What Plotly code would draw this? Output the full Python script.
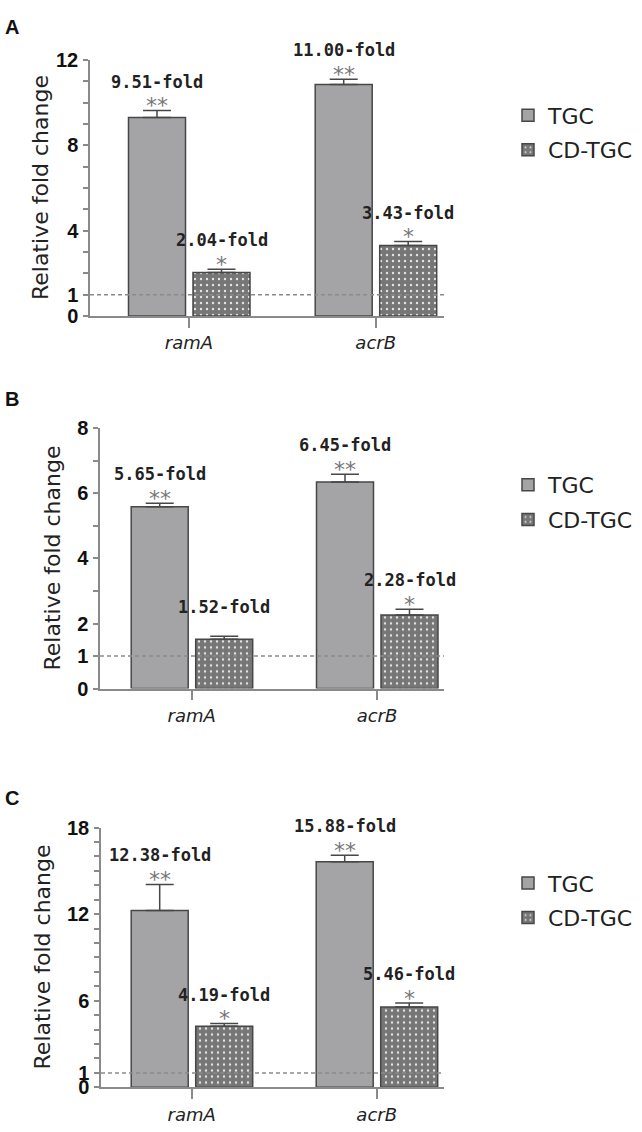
import plotly.graph_objects as go

W, H = 642, 1132

# ---------------- data ----------------
genes = ["ramA", "acrB"]
series_names = ["TGC", "CD-TGC"]

# Panel A
a_tgc = [9.30, 10.85]
a_tgc_err = [0.33, 0.25]
a_cd = [2.04, 3.30]
a_cd_err = [0.15, 0.19]
a_tgc_lbl = ["9.51-fold", "11.00-fold"]
a_cd_lbl = ["2.04-fold", "3.43-fold"]
a_tgc_sig = ["**", "**"]
a_cd_sig = ["*", "*"]
a_ticklabels = [0, 1, 4, 8, 12]
a_ymax = 12

# Panel B
b_tgc = [5.59, 6.35]
b_tgc_err = [0.11, 0.24]
b_cd = [1.52, 2.26]
b_cd_err = [0.09, 0.18]
b_tgc_lbl = ["5.65-fold", "6.45-fold"]
b_cd_lbl = ["1.52-fold", "2.28-fold"]
b_tgc_sig = ["**", "**"]
b_cd_sig = ["", "*"]
b_ticklabels = [0, 1, 2, 4, 6, 8]
b_ymax = 8

# Panel C
c_tgc = [12.25, 15.63]
c_tgc_err = [1.81, 0.45]
c_cd = [4.24, 5.57]
c_cd_err = [0.18, 0.27]
c_tgc_lbl = ["12.38-fold", "15.88-fold"]
c_cd_lbl = ["4.19-fold", "5.46-fold"]
c_tgc_sig = ["**", "**"]
c_cd_sig = ["*", "*"]
c_ticklabels = [0, 1, 6, 12, 18]
c_ymax = 18

panels = [
    dict(letter="A", tgc=a_tgc, tgc_err=a_tgc_err, cd=a_cd, cd_err=a_cd_err,
         tgc_lbl=a_tgc_lbl, cd_lbl=a_cd_lbl, tgc_sig=a_tgc_sig, cd_sig=a_cd_sig,
         ticklabels=a_ticklabels, ymax=a_ymax),
    dict(letter="B", tgc=b_tgc, tgc_err=b_tgc_err, cd=b_cd, cd_err=b_cd_err,
         tgc_lbl=b_tgc_lbl, cd_lbl=b_cd_lbl, tgc_sig=b_tgc_sig, cd_sig=b_cd_sig,
         ticklabels=b_ticklabels, ymax=b_ymax),
    dict(letter="C", tgc=c_tgc, tgc_err=c_tgc_err, cd=c_cd, cd_err=c_cd_err,
         tgc_lbl=c_tgc_lbl, cd_lbl=c_cd_lbl, tgc_sig=c_tgc_sig, cd_sig=c_cd_sig,
         ticklabels=c_ticklabels, ymax=c_ymax),
]

# ---------------- layout geometry (pixels) ----------------
geom = [
    dict(left=90, right=444, top=50, bottom=311, c0=189, c1=375.7, title_x=41, letter_y=16, leg_y=104),
    dict(left=100, right=444, top=425.7, bottom=691, c0=191.7, c1=377, title_x=52, letter_y=396, leg_y=481),
    dict(left=101, right=444, top=832.7, bottom=1097.7, c0=191.7, c1=376.7, title_x=42, letter_y=803, leg_y=887),
]

def px(x):
    return x / W

def py(y):
    return 1 - y / H

TGC_FILL = "#a4a4a7"
CD_FILL = "#767676"
EDGE = "#474747"
AXIS = "#8a8a8a"

fig = go.Figure()
annotations = []
shapes = []
layout_extra = {}

for i, (p, g) in enumerate(zip(panels, geom)):
    n = i + 1
    sfx = "" if n == 1 else str(n)
    xa, ya = "x" + sfx, "y" + sfx
    leg = "legend" + sfx
    s = g["c1"] - g["c0"]
    bw = 57.0 / s
    off_tgc = -60.5 / s
    off_cd = 4.0 / s
    xr = [-(g["c0"] - g["left"]) / s, 1 + (g["right"] - g["c1"]) / s]

    fig.add_trace(go.Bar(
        x=[0, 1], y=p["tgc"], name=series_names[0], xaxis=xa, yaxis=ya,
        width=bw, offset=off_tgc, legend=leg, legendgroup="g1_" + sfx,
        marker=dict(color=TGC_FILL, line=dict(color=EDGE, width=1.5)),
        error_y=dict(type="data", symmetric=False, array=p["tgc_err"], arrayminus=[0, 0],
                     width=14, thickness=1.5, color=EDGE),
    ))
    fig.add_trace(go.Bar(
        x=[0, 1], y=p["cd"], name=series_names[1], xaxis=xa, yaxis=ya,
        width=bw, offset=off_cd, legend=leg, legendgroup="g2_" + sfx,
        marker=dict(color=CD_FILL, line=dict(color=EDGE, width=1.5),
                    pattern=dict(shape=".", fgcolor="#e6e6e6", bgcolor=CD_FILL,
                                 size=6, solidity=0.12, fillmode="replace")),
        error_y=dict(type="data", symmetric=False, array=p["cd_err"], arrayminus=[0, 0],
                     width=14, thickness=1.5, color=EDGE),
    ))

    tickvals = list(range(0, p["ymax"] + 1))
    ticktext = [str(v) if v in p["ticklabels"] else "" for v in tickvals]

    layout_extra["xaxis" + sfx] = dict(
        domain=[px(g["left"]), px(g["right"])], range=xr, anchor=ya,
        tickvals=[0, 1], ticktext=["<i>%s</i>" % t for t in genes],
        ticks="outside", ticklen=10, tickwidth=1.5, tickcolor=AXIS,
        showline=True, linecolor=AXIS, linewidth=1.5, showgrid=False, zeroline=False,
        tickfont=dict(family="DejaVu Sans", size=18, color="#222"),
        fixedrange=True,
    )
    layout_extra["yaxis" + sfx] = dict(
        domain=[py(g["bottom"]), py(g["top"])], range=[0, p["ymax"]], anchor=xa,
        tickvals=tickvals, ticktext=ticktext,
        ticks="outside", ticklen=5, tickwidth=1.5, tickcolor=AXIS,
        showline=True, linecolor=AXIS, linewidth=1.5, showgrid=False, zeroline=False,
        tickfont=dict(family="Liberation Sans", size=20, color="#111", weight="bold"),
        ticklabelstandoff=1,
    )
    layout_extra[leg] = dict(
        x=px(508), y=py(g["leg_y"] - 19), xanchor="left", yanchor="top",
        bgcolor="rgba(0,0,0,0)", font=dict(family="DejaVu Sans", size=22, color="#222"),
        itemwidth=30, tracegroupgap=3, traceorder="grouped",
    )

    # reference line at 1
    shapes.append(dict(type="line", xref=xa + " domain", x0=0, x1=1, yref=ya, y0=1, y1=1,
                       line=dict(color="#8a8a8a", width=1.5, dash="4px,3px"), layer="above"))

    # value labels and significance marks
    for vals, errs, lbls, sigs, off in [
        (p["tgc"], p["tgc_err"], p["tgc_lbl"], p["tgc_sig"], off_tgc),
        (p["cd"], p["cd_err"], p["cd_lbl"], p["cd_sig"], off_cd),
    ]:
        for k in range(2):
            xc = k + off + bw / 2
            yt = vals[k] + errs[k]
            annotations.append(dict(
                x=xc, y=yt, xref=xa, yref=ya, text=lbls[k], showarrow=False,
                yanchor="middle", yshift=29,
                font=dict(family="DejaVu Sans Mono", size=17, color="#222", weight="bold")))
            if sigs[k]:
                annotations.append(dict(
                    x=xc, y=yt, xref=xa, yref=ya, text=sigs[k], showarrow=False,
                    yanchor="middle", yshift=5,
                    font=dict(family="DejaVu Sans", size=22, color="#777")))

    # y-axis title
    annotations.append(dict(
        x=px(g["title_x"]), y=py((g["top"] + g["bottom"]) / 2), xref="paper", yref="paper",
        text="Relative fold change", textangle=-90, showarrow=False,
        xanchor="center", yanchor="middle",
        font=dict(family="DejaVu Sans", size=22, color="#222")))
    # panel letter
    annotations.append(dict(
        x=px(3), y=py(g["letter_y"]), xref="paper", yref="paper", text=p["letter"],
        showarrow=False, xanchor="left", yanchor="middle",
        font=dict(family="Liberation Sans", size=20, color="#111", weight="bold")))

fig.update_layout(
    width=W, height=H, margin=dict(l=0, r=0, t=0, b=0),
    paper_bgcolor="white", plot_bgcolor="white",
    barmode="overlay", showlegend=True,
    annotations=annotations, shapes=shapes,
    **layout_extra,
)

fig.write_html("out.html")
